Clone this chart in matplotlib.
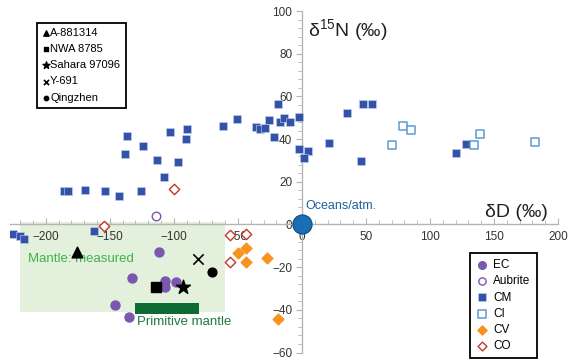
import matplotlib
matplotlib.use("Agg")
import matplotlib.pyplot as plt
from matplotlib.patches import Rectangle
from matplotlib.ticker import MultipleLocator

plt.rcParams["font.family"] = ["Liberation Sans", "DejaVu Sans"]
plt.rcParams["mathtext.fontset"] = "custom"
plt.rcParams["mathtext.rm"] = "Liberation Sans"
plt.rcParams["mathtext.default"] = "regular"

# ---- data (δD, δ15N) ----
ec_x = [-112, -133, -107, -107, -98, -146, -135]
ec_y = [-13, -25, -26.3, -29.1, -26.8, -37.6, -43.5]

aub_x = [-114]
aub_y = [3.9]

cm_x = [-137, -103, -90, -124, -90.5, -138, -113, -97, -108, -186, -183, -169.5, -153.5,
        -142.5, -125.5, -225.5, -220, -217, -162.5, -61.5, -51, -36, -32.5, -28.5, -26,
        -19, -17.5, -14, -9, -2.5, -22, -2, 5, 2, 21.5, 35, 48, 54.5, 46, 120, 128]
cm_y = [41.6, 43.5, 44.9, 36.9, 39.8, 33.0, 30.2, 29.4, 22.1, 15.5, 15.6, 16.0, 15.6,
        13.5, 15.5, -4.4, -5.5, -7.0, -3.0, 45.9, 49.6, 45.7, 44.7, 45.4, 48.7,
        56.3, 48.0, 49.9, 47.9, 50.4, 41.2, 35.5, 34.3, 31.3, 38.2, 52.1, 56.6, 56.6, 29.7, 33.3, 37.7]

ci_x = [70.5, 79, 85, 134.5, 139, 182]
ci_y = [37.2, 46.3, 44.3, 37.4, 42.6, 38.6]

cv_x = [-50, -43.5, -44, -27.5, -18.5]
cv_y = [-13.5, -11.1, -17.8, -15.8, -44.1]

co_x = [-100, -154.5, -56, -44, -56]
co_y = [16.8, -0.9, -4.9, -4.4, -17.8]

met_names = ["A-881314", "NWA 8785", "Sahara 97096", "Y-691", "Qingzhen"]
met_x = [-175.5, -114, -93, -81, -70.5]
met_y = [-12.7, -29.1, -29.1, -16.1, -22.5]

ocean_x = [0]
ocean_y = [0]

mantle_meas_x = [-220, -60]
mantle_meas_y = [-41, 1]
prim_mantle_x = [-130, -80]
prim_mantle_y = [-42, -37]

xticks = [-200, -150, -100, -50, 0, 50, 100, 150, 200]
yticks = [-60, -40, -20, 0, 20, 40, 60, 80, 100]

# ---- figure ----
fig = plt.figure(figsize=(5.68, 3.62), dpi=100)
ax = fig.add_axes([10/568, 1 - 352.5/362, 548/568, 341.5/362])
ax.set_xlim(-228, 200)
ax.set_ylim(-60, 100)

for s in ["top", "right"]:
    ax.spines[s].set_visible(False)
ax.spines["left"].set_position(("data", 0))
ax.spines["bottom"].set_position(("data", 0))
for s in ["left", "bottom"]:
    ax.spines[s].set_color("#b5b5b5")
    ax.spines[s].set_linewidth(1.0)

ax.set_xticks(xticks)
ax.set_yticks(yticks)
ax.xaxis.set_minor_locator(MultipleLocator(10))
ax.yaxis.set_minor_locator(MultipleLocator(4))
ax.tick_params(axis="x", which="both", direction="in", colors="#b5b5b5",
               labelcolor="#333333", labelsize=8.5, pad=5)
ax.tick_params(axis="y", which="both", direction="out", colors="#b5b5b5",
               labelcolor="#333333", labelsize=8.5, pad=3)
ax.tick_params(which="major", length=4)
ax.tick_params(which="minor", length=3)

# regions
ax.add_patch(Rectangle((mantle_meas_x[0], mantle_meas_y[0]),
                       mantle_meas_x[1] - mantle_meas_x[0], mantle_meas_y[1] - mantle_meas_y[0],
                       facecolor="#e3f0dc", edgecolor="none", zorder=0))
ax.add_patch(Rectangle((prim_mantle_x[0], prim_mantle_y[0]),
                       prim_mantle_x[1] - prim_mantle_x[0], prim_mantle_y[1] - prim_mantle_y[0],
                       facecolor="#0d6b34", edgecolor="none", zorder=2))
ax.text(-214, -16, "Mantle: measured", color="#3cb44b", fontsize=9.5, va="center", ha="left", zorder=1)
ax.text(-129, -45.5, "Primitive mantle", color="#1e7a3c", fontsize=9.5, va="center", ha="left", zorder=3)

# series
h_ec = ax.scatter(ec_x, ec_y, s=42, marker="o", color="#7b57b0", label="EC", zorder=4)
h_aub = ax.scatter(aub_x, aub_y, s=38, marker="o", facecolor="white", edgecolor="#7b57b0",
                   linewidth=1.0, label="Aubrite", zorder=4)
h_cm = ax.scatter(cm_x, cm_y, s=38, marker="s", color="#3353a8", edgecolor="#c8d2ec",
                  linewidth=0.4, label="CM", zorder=4)
h_ci = ax.scatter(ci_x, ci_y, s=36, marker="s", facecolor="white", edgecolor="#5b9bd5",
                  linewidth=1.1, label="CI", zorder=4)
h_cv = ax.scatter(cv_x, cv_y, s=30, marker="D", color="#f7931e", label="CV", zorder=4)
h_co = ax.scatter(co_x, co_y, s=28, marker="D", facecolor="white", edgecolor="#c0392b",
                  linewidth=1.0, label="CO", zorder=4)

met_markers = ["^", "s", "*", "x", "o"]
met_sizes = [60, 45, 110, 55, 40]
met_handles = []
for nm, mx, my, mk, sz in zip(met_names, met_x, met_y, met_markers, met_sizes):
    if mk == "x":
        h = ax.scatter([mx], [my], s=sz, marker=mk, color="black", linewidth=1.2, label=nm, zorder=5)
    else:
        h = ax.scatter([mx], [my], s=sz, marker=mk, color="black", label=nm, zorder=5)
    met_handles.append(h)

ax.scatter(ocean_x, ocean_y, s=190, marker="o", color="#1a6eb6", edgecolor="#0d4a80",
           linewidth=0.8, zorder=6, clip_on=False)
ax.text(3, 8.5, "Oceans/atm.", color="#1f5f9e", fontsize=9, va="center", ha="left")

# axis titles
ax.text(4.5, 91, "δ$^{15}$N (‰)", fontsize=14, color="#222222", va="center", ha="left")
ax.text(192, 5.5, "δD (‰)", fontsize=14, color="#222222", va="center", ha="right")

# legends
leg1 = ax.legend(handles=met_handles, loc="upper left", bbox_to_anchor=(0.049, 0.966),
                 borderaxespad=0, fontsize=8, markerscale=0.5, handlelength=0.6,
                 handletextpad=0.1, labelspacing=0.55, borderpad=0.5, fancybox=False,
                 framealpha=1, edgecolor="black", scatterpoints=1)
leg1.get_frame().set_linewidth(1.3)
ax.add_artist(leg1)

leg2 = ax.legend(handles=[h_ec, h_aub, h_cm, h_ci, h_cv, h_co], loc="upper left",
                 bbox_to_anchor=(0.839, 0.291), borderaxespad=0, fontsize=8.5,
                 markerscale=0.85, handlelength=1.0, handletextpad=0.5, labelspacing=0.36,
                 borderpad=0.5, fancybox=False, framealpha=1, edgecolor="black",
                 scatterpoints=1)
leg2.get_frame().set_linewidth(1.3)

fig.savefig("out.png", dpi=100)
